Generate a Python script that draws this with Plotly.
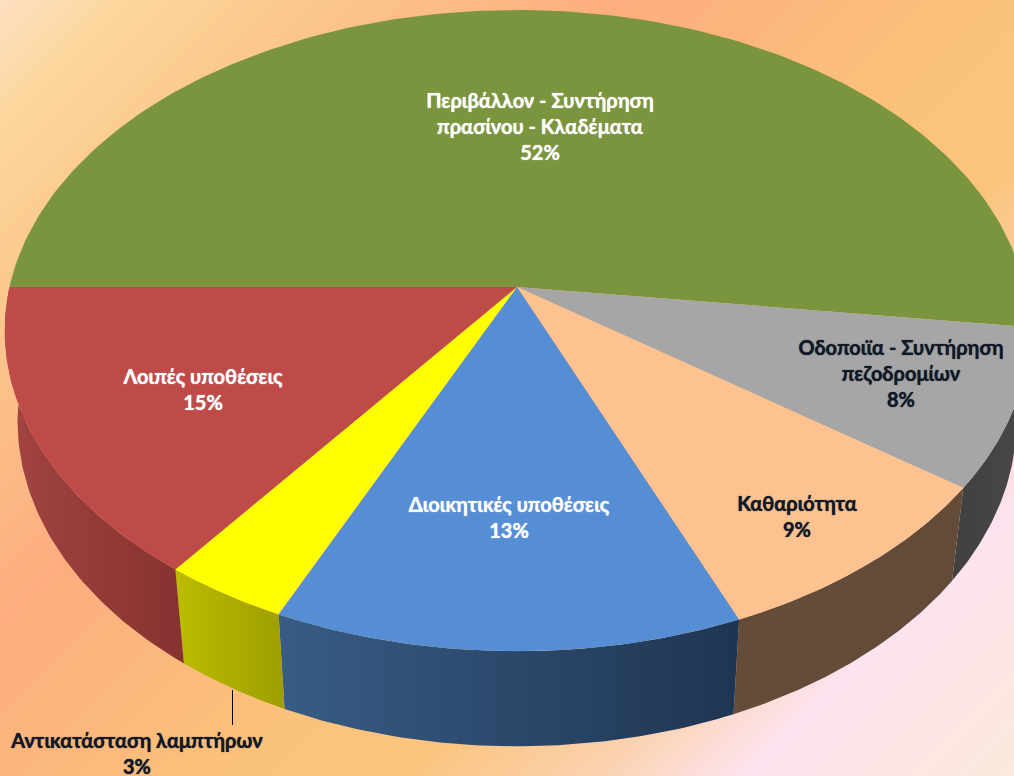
import numpy as np
import plotly.graph_objects as go

# ---- data ----
categories = ["Περιβάλλον - Συντήρηση<br>πρασίνου - Κλαδέματα", "Οδοποιϊα - Συντήρηση<br>πεζοδρομίων",
              "Καθαριότητα", "Διοικητικές υποθέσεις", "Αντικατάσταση λαμπτήρων", "Λοιπές υποθέσεις"]
values = [52.0, 8.0, 8.75, 13.0, 3.49, 14.76]

# ---- styling and layout ----
W, H = 1014, 776
top_colors = ["#7A953D", "#A6A6A6", "#FDC28F", "#558ED5", "#FFFF00", "#BE4B48"]
side_colors = [None, ("#404040", "#484848"), ("#654C38", "#634B37"), ("#385C85", "#1F3552"),
               ("#BCBC00", "#9E9E00"), ("#A24442", "#863230")]
text_colors = ["white", "#111827", "#111827", "white", "#111827", "white"]
label_xy = [(540, 128.5), (901, 375.5), (797, 519), (509, 519.5), (137, 755.5), (203, 392)]
bg_stops = [(0, "#FDE0C2"), (130, "#FCD69B"), (300, "#FBC88F"), (620, "#FDAD7F"), (1000, "#FBC27A"),
            (1170, "#FBC47C"), (1370, "#FBD2AF"), (1520, "#FDE3EF"), (1790, "#FBE9DA")]

# projection of the unit disc
CX, CY, A, B, K, DEPTH, SHRINK = 517, 287, 507.5, 314.7, 0.136, 90, 0.975


def top_ring(deg):
    t = np.radians(deg)
    X, Y = np.cos(t), -np.sin(t)  # deg measured clockwise on screen from the right
    w = 1 + K * Y
    return CX + A * X / w, CY - B * Y / w


def bottom_ring(deg):
    x, y = top_ring(deg)
    w = 1 - K * np.sin(np.radians(deg))
    return CX + SHRINK * (x - CX), CY + SHRINK * (y - CY) + DEPTH / w


fig = go.Figure()

# background gradient
gx = np.linspace(0, W, 70)
gy = np.linspace(0, H, 60)
gz = np.add.outer(gy, gx)
fig.add_trace(go.Heatmap(x=gx, y=gy, z=gz, zmin=0, zmax=W + H, zsmooth="best", showscale=False, hoverinfo="skip",
                         colorscale=[[s / (W + H), c] for s, c in bg_stops]))

# slice angles: the first slice starts on the far left and runs clockwise over the top
edges = 180 + np.cumsum([0] + values) * 3.6

# side walls
for i in range(1, len(values)):
    a0, a1 = edges[i] - 360, edges[i + 1] - 360
    d = np.linspace(a0, a1, 80)
    xt, yt = top_ring(d)
    xb, yb = bottom_ring(d)
    fig.add_trace(go.Scatter(x=np.r_[xt, xb[::-1], xt[0]], y=np.r_[yt, yb[::-1], yt[0]], mode="lines",
                             line=dict(width=0), fill="toself", hoverinfo="skip", showlegend=False,
                             fillgradient=dict(type="horizontal",
                                               colorscale=[[0, side_colors[i][0]], [1, side_colors[i][1]]])))

# top faces
for i in range(len(values)):
    d = np.linspace(edges[i], edges[i + 1], 200)
    x, y = top_ring(d)
    fig.add_trace(go.Scatter(x=np.r_[CX, x, CX], y=np.r_[CY, y, CY], mode="lines", line=dict(width=0),
                             fill="toself", fillcolor=top_colors[i], hoverinfo="skip", showlegend=False))

# leader line
fig.add_trace(go.Scatter(x=[232.5, 232.5], y=[690, 725], mode="lines", line=dict(color="black", width=1),
                         hoverinfo="skip", showlegend=False))

# labels
for i, cat in enumerate(categories):
    c = text_colors[i]
    fig.add_trace(go.Scatter(x=[label_xy[i][0]], y=[label_xy[i][1]], mode="text",
                             text=[f"{cat}<br>{round(values[i])}%"], textposition="middle center",
                             textfont=dict(family="Lato, 'Open Sans', sans-serif", size=20, color=c,
                                           weight="bold", shadow=f"0 0 1px {c}"),
                             hoverinfo="skip", showlegend=False))

fig.update_layout(width=W, height=H, margin=dict(l=0, r=0, t=0, b=0), showlegend=False,
                  paper_bgcolor="#FBC27A", plot_bgcolor="rgba(0,0,0,0)",
                  xaxis=dict(range=[0, W], visible=False, fixedrange=True),
                  yaxis=dict(range=[H, 0], visible=False, fixedrange=True))

fig.write_html("out.html", config={"displayModeBar": False},
               post_script="document.body.style.margin='0';document.documentElement.style.overflow='hidden';")
